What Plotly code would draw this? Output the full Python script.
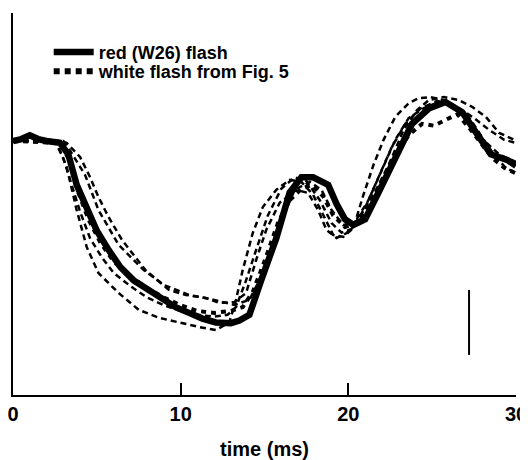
import plotly.graph_objects as go

# time axis (ms) and responses (arbitrary units, baseline ~66)
red_t = [0, 0.5, 1.0, 1.5, 2.0, 2.8, 3.3, 3.8, 4.4, 5.0, 5.7, 6.4, 7.2, 8.1, 9.0, 9.7, 10.5,
         11.3, 12.1, 13.0, 13.5, 14.1, 14.8, 15.7, 16.5, 17.2, 17.9, 18.8, 19.3, 19.8, 20.3,
         21.0, 21.8, 22.8, 23.8, 24.8, 25.8, 26.8, 27.8, 28.5, 29.5, 30.0]
red_y = [66.5, 67, 68, 67, 66.5, 66, 63, 55, 49, 43, 38, 33.5, 30, 27.5, 25, 23, 21.5,
         20, 19, 18.8, 19.5, 21, 30, 41, 53, 57, 57, 55, 50, 46, 44.5,
         46, 53, 62, 71, 75, 76.7, 74, 67.5, 63, 61.5, 60]

white_a_t = [0, 2.5, 2.8, 3.2, 3.8, 4.4, 5.1, 6.3, 7.5, 8.7, 11.1, 12.1, 12.9, 13.3, 13.7, 14.3,
             14.9, 15.7, 16.5, 17.2, 17.9, 18.5, 19.1, 19.7, 20.3, 20.9, 21.5, 22.1, 22.8,
             23.6, 24.2, 24.9, 25.7, 26.6, 27.5, 28.4, 29.3, 30.0]
white_a_y = [66.5, 66.5, 64, 59.7, 48.4, 38.7, 31.9, 26.7, 22.3, 20.2, 17.8, 17, 19, 24.9, 32.7,
             42.4, 49.2, 53.7, 56.3, 55.8, 52.4, 47.1, 41.9, 41.4, 43.7, 52.4, 60.2, 66.8,
             72.8, 76.4, 77.7, 78, 77.2, 75.1, 72.5, 69.4, 66.8, 66]

white_b_t = [0, 2.8, 3.2, 4.0, 4.6, 5.1, 5.7, 6.5, 7.9, 9.3, 10.3, 11.5, 12.3, 13.2, 13.9, 14.5,
             15.1, 15.9, 16.9, 17.6, 18.2, 18.7, 19.3, 19.9, 20.4, 21.2, 22.0, 22.8, 23.6,
             24.5, 25.4, 26.1, 27.1, 27.9, 28.7, 29.4, 30.0]
white_b_y = [66.5, 66.5, 66, 62.3, 57, 51.8, 46.6, 40.6, 32.7, 27.5, 26.2, 25.4, 24.1, 24.3,
             26.7, 35.3, 43.2, 50.3, 53.7, 52.9, 48.4, 43.2, 41.1, 42.4, 45.3, 51, 58.9,
             66.8, 72.5, 75.1, 76.7, 76.4, 73.3, 68.1, 62.8, 59.4, 58.1]

white_c_t = [0, 2.5, 3.0, 3.5, 4.0, 4.6, 5.3, 6.0, 7.0, 8.0, 9.0, 10.0, 11.0, 12.0, 12.8, 13.3,
             13.9, 14.5, 15.2, 16.0, 16.8, 17.5, 18.3, 19.0, 19.6, 20.2, 21.0, 21.8, 22.6,
             23.4, 24.3, 25.3, 26.2, 27.1, 28.0, 29.0, 30.0]
white_c_y = [66.5, 66.5, 62, 55, 48, 41, 36, 32, 28.5, 25.5, 23.5, 22, 21, 20.5, 21, 23,
             30, 38, 47, 54, 57, 56, 51, 45, 42.5, 43.5, 49, 57, 65,
             71, 75, 77, 76, 72, 67, 63, 61]

white_d_t = [0, 3.0, 3.4, 4.3, 5.1, 6.3, 7.8, 9.0, 10.5, 12.0, 13.2, 14.1, 15.0, 15.9, 16.8,
             17.7, 18.4, 19.0, 19.7, 20.5, 21.5, 22.4, 23.3, 24.1, 24.8, 25.7, 26.6, 27.4,
             28.2, 29.0, 29.9]
white_d_y = [66.5, 66.5, 64, 57.6, 48.4, 39.3, 32.7, 28.8, 26.2, 24.9, 23.6, 24.9, 32.7, 44.5,
             53.7, 55.8, 53.7, 48.4, 44.5, 45.3, 52.4, 60.2, 69.4, 74.6, 77.2, 78, 77.2, 75.4,
             72.8, 68.6, 66.8]

white_e_t = [0, 2.8, 3.3, 3.9, 4.5, 5.2, 6.0, 7.0, 8.0, 9.0, 10.0, 11.0, 12.0, 13.0, 13.7,
             14.3, 15.0, 15.8, 16.5, 17.2, 17.8, 18.5, 19.1, 19.8, 20.5, 21.3, 22.0, 22.8,
             23.6, 24.4, 25.1, 25.8, 26.5, 27.2, 27.9, 28.6, 29.3, 30.0]
white_e_y = [66.5, 66, 62, 53, 46, 40, 35, 31, 28, 25.5, 23.5, 22, 21.5, 22, 23,
             27, 35, 45, 51, 54, 55, 52, 47, 44, 45, 50, 56, 63,
             68, 71, 70.5, 72, 73.5, 70, 66, 62, 59.5, 58]

# calibration bar
bar_t = [27.2, 27.2]
bar_y = [10.5, 27.5]

FONT = "Liberation Sans, Arial, sans-serif"

fig = go.Figure()

for t, y in [(white_a_t, white_a_y), (white_b_t, white_b_y),
             (white_c_t, white_c_y), (white_d_t, white_d_y)]:
    fig.add_trace(go.Scatter(x=t, y=y, mode="lines", showlegend=False,
                             line=dict(color="black", width=2.5, dash="6px,4px")))
fig.add_trace(go.Scatter(x=white_e_t, y=white_e_y, mode="lines", showlegend=False,
                         line=dict(color="black", width=4, dash="5px,5px")))

fig.add_trace(go.Scatter(x=red_t, y=red_y, mode="lines", name="red (W26) flash",
                         legend="legend", line=dict(color="black", width=6.5)))
# legend entry for the dashed family
fig.add_trace(go.Scatter(x=[None], y=[None], mode="lines", name="white flash from Fig. 5",
                         legend="legend2",
                         line=dict(color="black", width=6, dash="6px,5px")))

fig.add_trace(go.Scatter(x=bar_t, y=bar_y, mode="lines", showlegend=False,
                         line=dict(color="black", width=2)))

leg = dict(x=0.071, xanchor="left", yanchor="middle", bgcolor="rgba(0,0,0,0)",
           itemwidth=40, font=dict(size=18, weight="bold"))

# the page body adds an 8px offset, so the figure is sized a little smaller
fig.update_layout(
    width=520, height=452,
    margin=dict(l=5, r=12, t=5, b=65),
    plot_bgcolor="white", paper_bgcolor="white",
    font=dict(family=FONT, color="black", size=18),
    legend=dict(leg, y=0.897),
    legend2=dict(leg, y=0.847),
    xaxis=dict(range=[0, 30], tickvals=[0, 10, 20, 30], ticks="inside", ticklen=12,
               tickwidth=2, tickcolor="black", showline=True, linewidth=2,
               linecolor="black", showgrid=False, zeroline=False, automargin=False,
               ticklabeloverflow="allow",
               tickfont=dict(size=20, weight="bold"),
               title=dict(text="time (ms)", font=dict(size=20, weight="bold"), standoff=18)),
    yaxis=dict(range=[0, 100], showticklabels=False, ticks="", showline=True,
               linewidth=2, linecolor="black", showgrid=False, zeroline=False,
               automargin=False),
)

fig.write_html("out.html")
